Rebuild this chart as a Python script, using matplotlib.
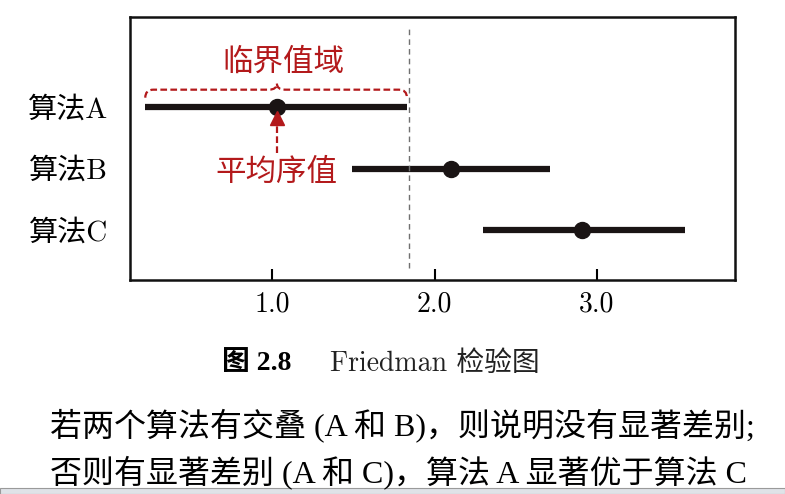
import matplotlib
matplotlib.use("Agg")
import matplotlib.pyplot as plt
from matplotlib.path import Path
from matplotlib.patches import PathPatch, Rectangle

# data
algos = ['算法A', '算法B', '算法C']
rows = [3, 2, 1]
mean_rank = [1.03, 2.10, 2.91]
lower = [0.22, 1.49, 2.30]
upper = [1.83, 2.71, 3.54]
cd_line = 1.84
xticks = [1.0, 2.0, 3.0]
xticklabels = ['1.0', '2.0', '3.0']

red = '#b3191b'
latin_cjk = ['cmr10', 'Noto Sans CJK SC']

fig = plt.figure(figsize=(7.85, 4.94), dpi=100)
ax = fig.add_axes([130/785, 1-280/494, 605/785, 263/494])

for y, lo, hi, m in zip(rows, lower, upper, mean_rank):
	ax.plot([lo, hi], [y, y], color='#1a1414', lw=4.5, solid_capstyle='butt')
	ax.plot(m, y, 'o', color='#1a1414', ms=11.5)

ax.axvline(cd_line, ymin=0.046, ymax=0.962, color='#707070', lw=1.0, ls=(0, (4, 3)))

ax.set_xlim(0.126, 3.849)
ax.set_ylim(0.19, 4.46)
ax.set_xticks(xticks)
ax.set_xticklabels(xticklabels, fontfamily=latin_cjk, fontsize=20)
ax.set_yticks(rows)
ax.set_yticklabels(algos, fontfamily=latin_cjk, fontsize=21)
ax.tick_params(axis='x', direction='in', length=8, width=1.5, pad=8)
ax.tick_params(axis='y', length=0, pad=16)
for s in ax.spines.values():
	s.set_linewidth(1.8)
	s.set_color('#111111')

# curly brace over the critical range of algorithm A
x0, x1, xm = lower[0], upper[0], mean_rank[0]
yb, yt, yp = 3.15, 3.28, 3.38
dx = 0.05
verts = [(x0, yb), (x0, yt), (x0+dx, yt), (xm-dx, yt), (xm, yt), (xm, yp),
	(xm, yt), (xm+dx, yt), (x1-dx, yt), (x1, yt), (x1, yb)]
codes = [Path.MOVETO, Path.CURVE3, Path.CURVE3, Path.LINETO, Path.CURVE3, Path.CURVE3,
	Path.CURVE3, Path.CURVE3, Path.LINETO, Path.CURVE3, Path.CURVE3]
ax.add_patch(PathPatch(Path(verts, codes), fill=False, edgecolor=red, lw=1.6, ls=(0, (3, 1.5))))
ax.text(xm + 0.04, 3.73, '临界值域', color=red, fontsize=22, ha='center', va='center',
	family='Noto Sans CJK SC')

# arrow pointing to the mean rank
ax.plot([mean_rank[0], mean_rank[0]], [2.25, 2.78], color=red, lw=1.6, ls=(0, (3, 1.5)))
ax.plot(mean_rank[0], 2.82, '^', color=red, ms=10)
ax.text(mean_rank[0], 1.93, '平均序值', color=red, fontsize=22, ha='center', va='center',
	family='Noto Sans CJK SC')

# caption and body text
fig.text(222/785, 1-364/494, '图 2.8', fontsize=20, fontweight='bold', va='center',
	family=['Liberation Serif', 'Noto Sans CJK SC'])
fig.text(330/785, 1-364/494, 'Friedman 检验图', fontsize=20, va='center', family=latin_cjk,
	color='#222222')
body = ['若两个算法有交叠 (A 和 B)，则说明没有显著差别;',
	'否则有显著差别 (A 和 C)，算法 A 显著优于算法 C']
fig.text(50/785, 1-425/494, body[0], fontsize=23, va='center',
	family=['Liberation Serif', 'Noto Sans CJK SC'])
fig.text(50/785, 1-472/494, body[1], fontsize=23, va='center',
	family=['Liberation Serif', 'Noto Sans CJK SC'])

# taskbar strip of the screenshot
fig.patches.append(Rectangle((0, 0), 1, 6/494, transform=fig.transFigure,
	facecolor='#dfe3e8', edgecolor='#9a9a9a', lw=0.8))

fig.savefig('out.png', dpi=100)
